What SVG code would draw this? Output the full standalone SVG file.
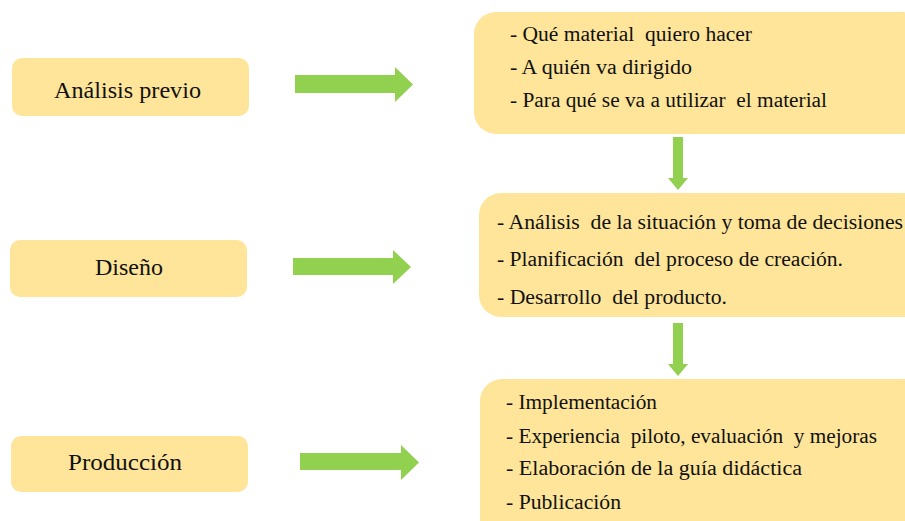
<svg xmlns="http://www.w3.org/2000/svg" width="905" height="521" viewBox="0 0 905 521">
<style>
.box{fill:#FFE599}
.arr{fill:#92D050}
</style>
<rect width="905" height="521" fill="#fff"/>
<g font-family="Liberation Serif, DejaVu Serif, serif" fill="#111">
<g id="n-analisis"><rect class="box" x="12" y="58" width="237" height="58" rx="10"/><text font-size="24" text-anchor="middle" x="127.5" y="98" textLength="147" lengthAdjust="spacingAndGlyphs">Análisis previo</text></g>
<g id="n-diseno"><rect class="box" x="10" y="240" width="237" height="57" rx="10"/><text font-size="24" text-anchor="middle" x="129" y="275" textLength="68" lengthAdjust="spacingAndGlyphs">Diseño</text></g>
<g id="n-produccion"><rect class="box" x="11" y="436" width="237" height="56" rx="10"/><text font-size="24" text-anchor="middle" x="125" y="470" textLength="114" lengthAdjust="spacingAndGlyphs">Producción</text></g>
<g id="n-d1" font-size="20"><rect class="box" x="474" y="12" width="450" height="122" rx="22"/>
<text xml:space="preserve" x="510" y="41" textLength="242" lengthAdjust="spacingAndGlyphs">- Qué material  quiero hacer</text>
<text xml:space="preserve" x="510" y="74" textLength="182" lengthAdjust="spacingAndGlyphs">- A quién va dirigido</text>
<text xml:space="preserve" x="510" y="107" textLength="317" lengthAdjust="spacingAndGlyphs">- Para qué se va a utilizar  el material</text></g>
<g id="n-d2" font-size="20"><rect class="box" x="479" y="193" width="450" height="124" rx="22"/>
<text xml:space="preserve" x="497" y="229" textLength="406" lengthAdjust="spacingAndGlyphs">- Análisis  de la situación y toma de decisiones</text>
<text xml:space="preserve" x="497" y="266" textLength="346" lengthAdjust="spacingAndGlyphs">- Planificación  del proceso de creación.</text>
<text xml:space="preserve" x="497" y="304" textLength="230" lengthAdjust="spacingAndGlyphs">- Desarrollo  del producto.</text></g>
<g id="n-d3" font-size="20"><rect class="box" x="480" y="379" width="450" height="170" rx="22"/>
<text xml:space="preserve" x="506" y="409" textLength="151" lengthAdjust="spacingAndGlyphs">- Implementación</text>
<text xml:space="preserve" x="506" y="443" textLength="371" lengthAdjust="spacingAndGlyphs">- Experiencia  piloto, evaluación  y mejoras</text>
<text xml:space="preserve" x="506" y="475" textLength="296" lengthAdjust="spacingAndGlyphs">- Elaboración de la guía didáctica</text>
<text xml:space="preserve" x="506" y="509" textLength="115" lengthAdjust="spacingAndGlyphs">- Publicación</text></g>
</g>
<g id="connectors">
<polygon class="arr" points="295,75 395,75 395,67 413,84.5 395,102 395,93 295,93"/>
<polygon class="arr" points="293,258 393,258 393,250 411,267 393,284 393,275 293,275"/>
<polygon class="arr" points="300,453 401,453 401,445 419,462.5 401,480 401,470 300,470"/>
<polygon class="arr" points="673,137 683,137 683,178 688,178 678,190 668,178 673,178"/>
<polygon class="arr" points="673,323 683,323 683,364 688,364 678,376 668,364 673,364"/>
</g>
</svg>
